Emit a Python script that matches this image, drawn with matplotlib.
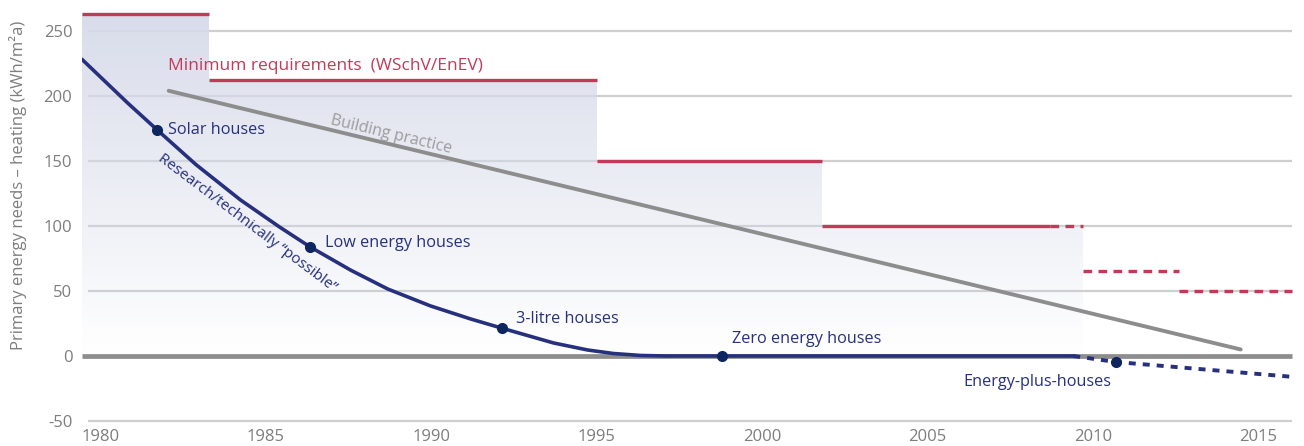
import numpy as np
import matplotlib
matplotlib.use("Agg")
import matplotlib.pyplot as plt

plt.rcParams['font.family'] = ['Open Sans', 'DejaVu Sans']

# ---- data ----
x_ticks = [1980, 1985, 1990, 1995, 2000, 2005, 2010, 2015]
y_ticks = [-50, 0, 50, 100, 150, 200, 250]

# Minimum requirements (WSchV/EnEV), step edges and levels
req_edges = [1979.45, 1983.3, 1995.0, 2001.8, 2008.7]
req_levels = [263, 212, 150, 100]
# planned / dashed requirement segments
req_dash_start = [2008.7, 2009.7, 2012.6]
req_dash_end = [2009.7, 2012.6, 2016.0]
req_dash_levels = [100, 65, 50]
shade_end = 2009.7

# Building practice
bp_years = [1982.07, 2014.46]
bp_values = [204, 5]

# Research / technically possible
res_years = [1979.47, 1980.83, 1981.71, 1982.89, 1984.24, 1985.42, 1986.33,
             1987.57, 1988.69, 1989.98, 1991.19, 1992.15, 1993.70, 1994.73,
             1995.51, 1996.33, 1997.08, 2009.4]
res_values = [227.7, 194.6, 174.2, 147.3, 120, 99.2, 84.1,
              66, 51.5, 38.5, 28.5, 21.3, 10, 4.6,
              1.9, 0.4, 0, 0]
fut_years = [2009.4, 2010.68, 2016.0]
fut_values = [0, -4.6, -16]

# milestones
ms_names = ["Solar houses", "Low energy houses", "3-litre houses",
            "Zero energy houses", "Energy-plus-houses"]
ms_years = [1981.71, 1986.33, 1992.15, 1998.8, 2010.68]
ms_values = [174.2, 84.1, 21.3, 0, -4.6]

RED = '#c23a58'
NAVY = '#27307d'
DOT = '#0d2660'
GRAY = '#8d8d8d'
GRID = '#cfcfcf'
TXT = '#7d7d7d'

fig = plt.figure(figsize=(13.04, 4.46), dpi=100)
ax = fig.add_axes([82/1304, 1-428/446, (1295-82)/1304, (428-5)/446])
for s in ax.spines.values():
    s.set_visible(False)

# grid
for v in y_ticks:
    if v == 0:
        continue
    ax.hlines(v, 1979.63, 2016.0, color=GRID, lw=1.6, zorder=1)
ax.hlines(0, 1979.45, 2016.0, color=GRAY, lw=3.4, zorder=2)

# shaded area under requirement steps (gradient)
fx = req_edges[:-1] + [shade_end]
fy = req_levels + [req_levels[-1]]
poly = ax.fill_between(fx, fy, 0, step='post', facecolor='none', edgecolor='none')
n = 256
grad = np.zeros((n, 1, 4))
grad[:, 0, :3] = np.array([0.84, 0.855, 0.915])
grad[:, 0, 3] = np.linspace(0, 1, n) * 0.95
im = ax.imshow(grad, extent=[req_edges[0], shade_end, 0, 265], aspect='auto',
               origin='lower', zorder=1.5, interpolation='bilinear')
im.set_clip_path(poly.get_paths()[0], transform=ax.transData)
ax.set_xlim(1979.45, 2016.1)
ax.set_ylim(-55.4, 270)

# requirement lines
ax.hlines(req_levels, req_edges[:-1], req_edges[1:], color=RED, lw=2.4, zorder=4)
for xs, xe, lv in zip(req_dash_start, req_dash_end, req_dash_levels):
    ax.plot([xs, xe], [lv, lv], color=RED, lw=2.4, dashes=(2.6, 1.9), zorder=4,
            solid_capstyle='butt', dash_capstyle='butt')

# building practice
ax.plot(bp_years, bp_values, color=GRAY, lw=2.8, zorder=3, solid_capstyle='round')

# research curve
ax.plot(res_years, res_values, color=NAVY, lw=2.6, zorder=5, solid_joinstyle='round')
ax.plot(fut_years, fut_values, color=NAVY, lw=2.8, dashes=(1.8, 1.8), zorder=5)
ax.plot(ms_years, ms_values, 'o', color=DOT, ms=7, zorder=6)

# texts
ax.text(1986.8, 223, "Minimum requirements  (WSchV/EnEV)", color=RED, fontsize=12.5,
        ha='center', va='center', zorder=7)
ax.text(1988.78, 170.5, "Building practice", color='#9c9c9c', fontsize=11.5,
        ha='center', va='center', rotation=-13.5, rotation_mode='anchor', zorder=7)
ax.text(1984.43, 102.5, "Research/technically \u201cpossible\u201d", color=NAVY, fontsize=11,
        ha='center', va='center', rotation=-37, rotation_mode='anchor', zorder=7)
lab_pos = [(1982.04, 174), (1986.8, 87), (1992.55, 28.5), (1999.1, 13), (2006.09, -20)]
for name, (lx, ly) in zip(ms_names, lab_pos):
    ax.text(lx, ly, name, color=NAVY, fontsize=11.7, ha='left', va='center', zorder=7)

# ticks
ax.set_xticks(x_ticks)
ax.set_xticklabels([str(t) for t in x_ticks])
ax.set_yticks(y_ticks)
ax.set_yticklabels([str(t) for t in y_ticks])
ax.tick_params(axis='both', length=0, labelcolor=TXT, labelsize=12)
ax.tick_params(axis='y', pad=7)
ax.tick_params(axis='x', pad=1)

fig.text(18/1304, 0.585, "Primary energy needs \u2013 heating (kWh/m\u00b2a)", rotation=90,
         ha='center', va='center', color=TXT, fontsize=12)

fig.savefig("out.png", dpi=100, facecolor='white')
